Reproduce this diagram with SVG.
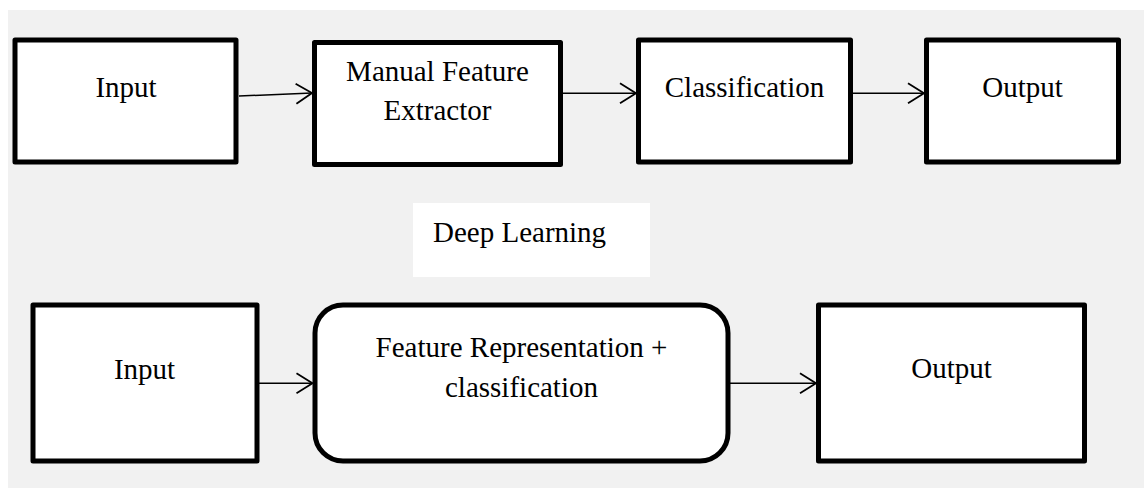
<svg xmlns="http://www.w3.org/2000/svg" width="1144" height="488" viewBox="0 0 1144 488">
<defs>
<style>
.box{fill:#fff;stroke:#000;stroke-width:5;stroke-linejoin:round}
.lbl{font-family:"Liberation Serif","Times New Roman",serif;font-size:29px;fill:#000;text-anchor:middle}
.conn{fill:none;stroke:#000;stroke-width:1.5}
</style>
<marker id="arr" markerUnits="userSpaceOnUse" markerWidth="22" markerHeight="26" refX="17" refY="11" orient="auto" viewBox="0 0 22 26">
<path d="M1,1 L17,11 L1,21" fill="none" stroke="#000" stroke-width="1.8"/>
</marker>
</defs>
<rect x="0" y="0" width="1144" height="488" fill="#fff"/>
<rect x="8" y="10" width="1136" height="478" fill="#f1f1f1"/>

<g id="n-input-top">
<rect class="box" x="15" y="40" width="221" height="122"/>
<text class="lbl" x="126" y="97">Input</text>
</g>
<g id="n-manual">
<rect class="box" x="314.5" y="42.5" width="246" height="122"/>
<text class="lbl" x="437.5" y="81">Manual Feature</text>
<text class="lbl" x="437.5" y="120">Extractor</text>
</g>
<g id="n-classification">
<rect class="box" x="638.5" y="40" width="212" height="122"/>
<text class="lbl" x="744.5" y="97">Classification</text>
</g>
<g id="n-output-top">
<rect class="box" x="926.5" y="40" width="192" height="122"/>
<text class="lbl" x="1022.5" y="97">Output</text>
</g>

<g id="n-deep-learning">
<rect x="413" y="203" width="237" height="74" fill="#fff"/>
<text class="lbl" x="433" y="242" text-anchor="start" style="text-anchor:start">Deep Learning</text>
</g>

<g id="n-input-bottom">
<rect class="box" x="33" y="305" width="224" height="156"/>
<text class="lbl" x="144.5" y="379">Input</text>
</g>
<g id="n-feature-rep">
<rect class="box" x="315" y="305" width="413" height="156" rx="28" ry="28"/>
<text class="lbl" x="521.5" y="357">Feature Representation +</text>
<text class="lbl" x="521.5" y="397">classification</text>
</g>
<g id="n-output-bottom">
<rect class="box" x="818.5" y="305" width="266" height="156"/>
<text class="lbl" x="951.5" y="378">Output</text>
</g>

<g id="connectors">
<line class="conn" x1="239" y1="96" x2="312" y2="93" marker-end="url(#arr)"/>
<line class="conn" x1="563" y1="93.3" x2="636" y2="93.3" marker-end="url(#arr)"/>
<line class="conn" x1="853" y1="93.3" x2="924" y2="93.3" marker-end="url(#arr)"/>
<line class="conn" x1="259" y1="383.3" x2="312.5" y2="383.3" marker-end="url(#arr)"/>
<line class="conn" x1="730" y1="383.3" x2="816" y2="383.3" marker-end="url(#arr)"/>
</g>
</svg>
